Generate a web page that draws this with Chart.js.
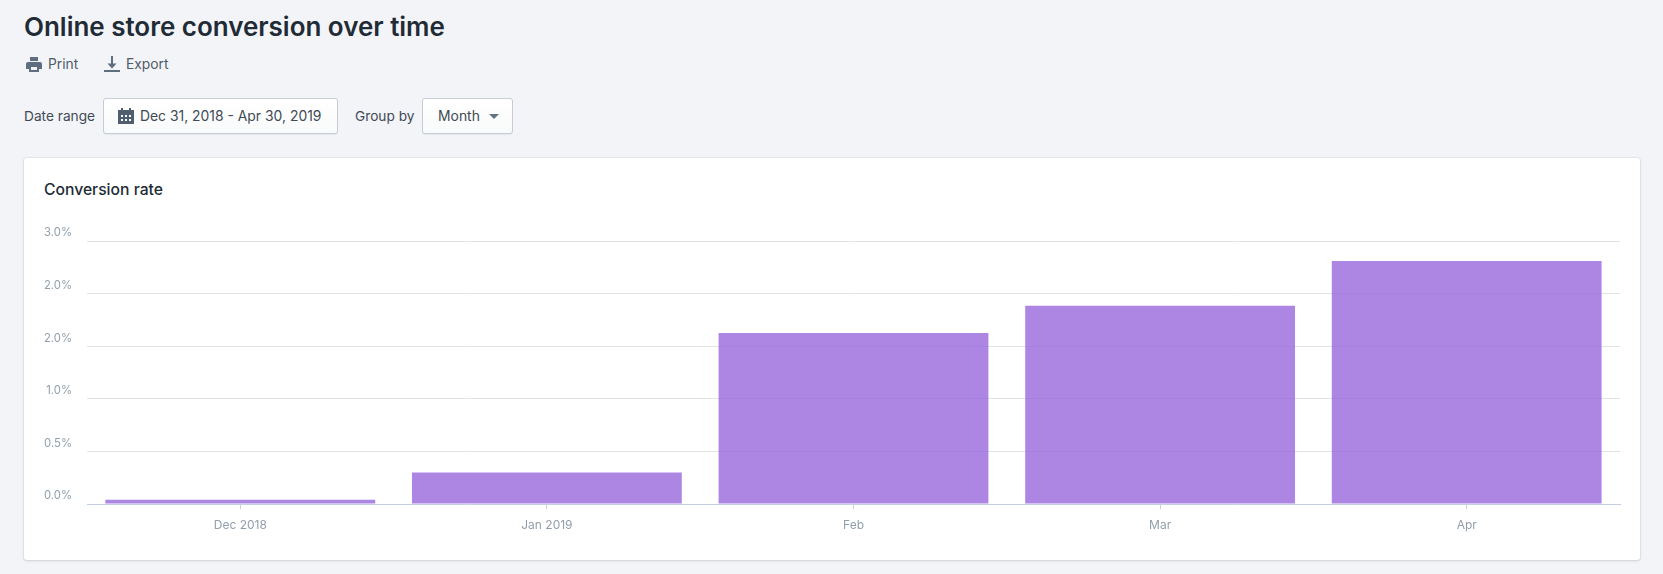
<!DOCTYPE html>
<html>
<head>
<meta charset="utf-8">
<title>Online store conversion over time</title>
<script src="https://cdn.jsdelivr.net/npm/chart.js@4/dist/chart.umd.min.js"></script>
<style>
html, body { margin: 0; padding: 0; }
body { width: 1663px; height: 574px; background: #f3f4f8; position: relative; overflow: hidden;
  font-family: Inter, "Noto Sans", sans-serif; color: #212b36; }
.abs { position: absolute; white-space: nowrap; }
h1 { margin: 0; left: 24px; top: 10px; font-size: 26px; line-height: 34px; font-weight: 600; letter-spacing: -0.02px; }
.action { font-size: 13.8px; line-height: 20px; top: 54px; color: #4f5b68; }
.label { font-size: 13.7px; line-height: 20px; top: 106px; color: #3f4a55; }
.btn { top: 98px; height: 36px; box-sizing: border-box; background: linear-gradient(#fff, #f9fafb);
  border: 1px solid #c4cdd5; border-radius: 3px; box-shadow: 0 1px 0 rgba(22,29,37,.05); }
.btnText { font-size: 13.9px; line-height: 20px; top: 106px; color: #3f4a55; }
.card { left: 24px; top: 158px; width: 1616px; height: 402px; background: #fff; border-radius: 3px;
  box-shadow: 0 0 0 1px rgba(63,63,68,.05), 0 1px 3px rgba(63,63,68,.15); }
.cardTitle { left: 44px; top: 180px; font-size: 15.7px; line-height: 20px; font-weight: 500; }
#wrap { position: absolute; left: 24px; top: 210px; width: 1616px; height: 350px; }
</style>
</head>
<body>
<h1 class="abs">Online store conversion over time</h1>

<svg class="abs" style="left:26px;top:57px" width="16" height="15" viewBox="0 0 16 15" fill="#5f6e7e">
  <path fill-rule="evenodd" d="M4 0h8v4H4zM2 5h12a2 2 0 0 1 2 2v5h-3v3H3v-3H0V7a2 2 0 0 1 2-2zM5 10v3h6v-3z"/>
</svg>
<div class="abs action" style="left:48px">Print</div>
<svg class="abs" style="left:104px;top:56px" width="16" height="16" viewBox="0 0 16 16" fill="#5f6e7e">
  <path d="M7 0h2v7.500h3.500L8 12.500 3.500 7.500H7zM0 14h16v2H0z"/>
</svg>
<div class="abs action" style="left:126px">Export</div>

<div class="abs label" style="left:24px">Date range</div>
<div class="abs btn" style="left:103px;width:235px"></div>
<svg class="abs" style="left:118px;top:107.500px" width="16" height="16" viewBox="0 0 16 16" fill="#4f5f70">
  <path fill-rule="evenodd" d="M3 0h2v2h6V0h2v2h3v14H0V2h3zM3 7v2h2V7zM7 7v2h2V7zM11 7v2h2V7zM3 11v2h2v-2zM7 11v2h2v-2zM11 11v2h2v-2z"/>
</svg>
<div class="abs btnText" style="left:140px">Dec 31, 2018 - Apr 30, 2019</div>
<div class="abs label" style="left:355px">Group by</div>
<div class="abs btn" style="left:422px;width:91px"></div>
<div class="abs btnText" style="left:438px">Month</div>
<svg class="abs" style="left:489px;top:114px" width="10" height="5" viewBox="0 0 10 5" fill="#637381"><path d="M0 0h10L5 5z"/></svg>

<div class="abs card"></div>
<div class="abs cardTitle">Conversion rate</div>
<div id="wrap"><canvas id="conversionChart"></canvas></div>

<script>
const categories = ['Dec 2018', 'Jan 2019', 'Feb', 'Mar', 'Apr'];
const conversionRate = [0.04, 0.30, 1.625, 1.885, 2.31];
const yTickLabels = ['0.0%', '0.5%', '1.0%', '2.0%', '2.0%', '3.0%'];

const ctx = document.getElementById('conversionChart').getContext('2d');
const conversionChart = new Chart(ctx, {
    type: 'bar',
    data: {
        labels: categories,
        datasets: [{
            label: 'Conversion rate',
            data: conversionRate,
            backgroundColor: 'rgba(152, 104, 221, 0.8)',
            borderWidth: 0,
            barPercentage: 0.88,
            categoryPercentage: 1
        }]
    },
    options: {
        responsive: true,
        maintainAspectRatio: false,
        animation: false,
        layout: { padding: { top: 31, right: 20, left: 0, bottom: 0 } },
        plugins: { legend: { display: false }, tooltip: { enabled: false } },
        scales: {
            x: {
                grid: { offset: false, drawOnChartArea: false, tickLength: 5, tickColor: '#c4cfe0', lineWidth: 1 },
                border: { color: '#c4cfe0', width: 1 },
                ticks: { color: '#919eab', font: { family: 'Inter', size: 12 }, padding: 9, maxRotation: 0 },
                afterFit: scale => { scale.height = 56; }
            },
            y: {
                min: 0,
                max: 2.5,
                grid: { color: '#e1e3e7', drawTicks: false, lineWidth: 1 },
                border: { display: false },
                ticks: {
                    stepSize: 0.5,
                    color: '#919eab',
                    font: { family: 'Inter', size: 11.3 },
                    padding: 15,
                    labelOffset: -8,
                    callback: (value, i) => yTickLabels[i]
                },
                afterFit: scale => { scale.width = 63; }
            }
        }
    }
});
</script>
</body>
</html>
